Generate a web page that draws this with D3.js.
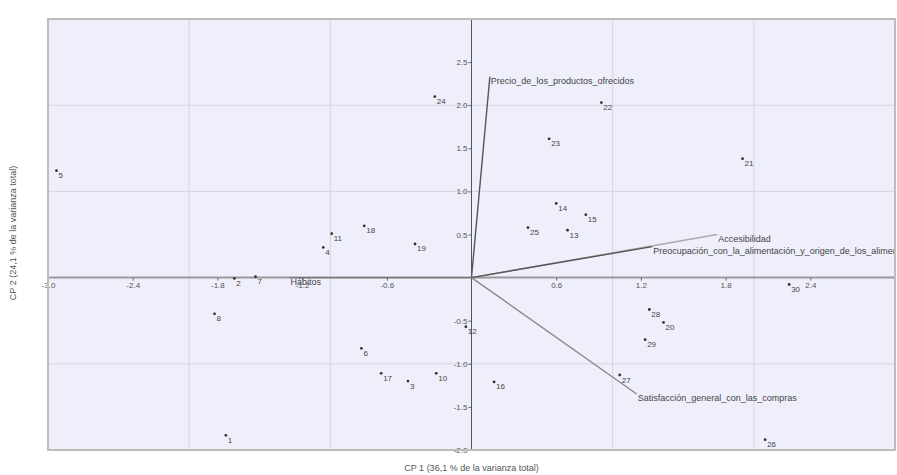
<!DOCTYPE html>
<html><head>
<meta charset="utf-8">
<script src="https://d3js.org/d3.v7.min.js"></script>
<style>
body { margin: 0; background: #fff; }
text { font-family: "Liberation Sans", Arial, sans-serif; }
</style>
</head>
<body>
<svg class="chart"></svg>
<script>
var width = 897;
var height = 475;

// observations (scores)
var pointIds = ["1","2","3","4","5","6","7","8","10","11","12","13","14","15","16","17","18","19","20","21","22","23","24","25","26","27","28","29","30"];
var pointX = [-1.74,-1.68,-0.45,-1.05,-2.94,-0.78,-1.53,-1.82,-0.25,-0.99,-0.04,0.68,0.60,0.81,0.16,-0.64,-0.76,-0.40,1.36,1.92,0.92,0.55,-0.26,0.40,2.08,1.05,1.26,1.23,2.25];
var pointY = [-1.83,-0.01,-1.20,0.35,1.24,-0.82,0.01,-0.42,-1.11,0.51,-0.57,0.55,0.86,0.73,-1.21,-1.11,0.60,0.39,-0.52,1.38,2.03,1.61,2.10,0.58,-1.88,-1.13,-0.37,-0.72,-0.08];

// variables (loadings)
var vectorNames = ["Precio_de_los_productos_ofrecidos","Accesibilidad","Preocupación_con_la_alimentación_y_origen_de_los_alimentos","Satisfacción_general_con_las_compras","Hábitos"];
var vectorX = [0.13,1.74,1.28,1.17,-1.29];
var vectorY = [2.33,0.50,0.36,-1.35,0.0];
var vectorColors = ["#555","#a8a8a8","#555","#8a8a8a","#777"];

var xTicks = [-3.0,-2.4,-1.8,-1.2,-0.6,0.6,1.2,1.8,2.4];
var yTicks = [-2.0,-1.5,-1.0,-0.5,0.5,1.0,1.5,2.0,2.5];
var xGrid = [-2,-1,1,2];
var yGrid = [-1,1,2];

var pL = 48, pR = 895, pT = 19, pB = 450;

var x = d3.scaleLinear().domain([-3,3]).range([pL,pR]);
var y = d3.scaleLinear().domain([-2,3]).range([pB,pT]);

var fmt = function(d) { return d.toFixed(1); };

var chart = d3.select(".chart")
    .attr("width",width)
    .attr("height",height);

chart.append("defs").append("clipPath").attr("id","plotclip")
    .append("rect")
    .attr("x",pL).attr("y",pT)
    .attr("width",pR-pL).attr("height",pB-pT);

chart.append("rect")
    .attr("x",pL).attr("y",pT)
    .attr("width",pR-pL).attr("height",pB-pT)
    .attr("fill","#efeffc");

var g = chart.append("g").attr("clip-path","url(#plotclip)");

g.selectAll(".gx").data(xGrid).enter().append("line")
    .attr("x1",function(d){ return x(d); }).attr("x2",function(d){ return x(d); })
    .attr("y1",pT).attr("y2",pB)
    .attr("stroke","#d4d4e4").attr("stroke-width",1);

g.selectAll(".gy").data(yGrid).enter().append("line")
    .attr("y1",function(d){ return y(d); }).attr("y2",function(d){ return y(d); })
    .attr("x1",pL).attr("x2",pR)
    .attr("stroke","#d4d4e4").attr("stroke-width",1);

// axes through the origin
g.append("line")
    .attr("x1",pL).attr("x2",pR)
    .attr("y1",y(0)).attr("y2",y(0))
    .attr("stroke","#9a9a9a").attr("stroke-width",2);
g.append("line")
    .attr("x1",x(0)).attr("x2",x(0))
    .attr("y1",pT).attr("y2",pB)
    .attr("stroke","#555").attr("stroke-width",1);

var xAxis = chart.append("g")
    .attr("transform","translate(0," + y(0) + ")")
    .call(d3.axisBottom(x).tickValues(xTicks).tickSize(3).tickFormat(fmt));
var yAxis = chart.append("g")
    .attr("transform","translate(" + x(0) + ",0)")
    .call(d3.axisLeft(y).tickValues(yTicks).tickSize(3).tickFormat(fmt));

[xAxis,yAxis].forEach(function(a){
    a.select(".domain").remove();
    a.selectAll("line").attr("stroke","#666");
    a.selectAll("text").attr("fill","#555").style("font-size","8px")
        .style("font-family","'Liberation Sans', Arial, sans-serif");
});
xAxis.selectAll("text").attr("dy","0.55em");
yAxis.selectAll("text").attr("x",-4);

// vectors
g.selectAll(".vec").data(vectorNames).enter().append("line")
    .attr("x1",x(0)).attr("y1",y(0))
    .attr("x2",function(d,i){ return x(vectorX[i]); })
    .attr("y2",function(d,i){ return y(vectorY[i]); })
    .attr("stroke",function(d,i){ return vectorColors[i]; })
    .attr("stroke-width",1.4);

g.selectAll(".vlab").data(vectorNames).enter().append("text")
    .attr("x",function(d,i){ return x(vectorX[i]) + 1; })
    .attr("y",function(d,i){ return y(vectorY[i]) + 7; })
    .attr("fill","#444")
    .style("font-size","9px")
    .text(function(d){ return d; });

// points
g.selectAll(".pt").data(pointIds).enter().append("circle")
    .attr("cx",function(d,i){ return x(pointX[i]); })
    .attr("cy",function(d,i){ return y(pointY[i]); })
    .attr("r",1.4)
    .attr("fill","#333");

g.selectAll(".plab").data(pointIds).enter().append("text")
    .attr("x",function(d,i){ return x(pointX[i]) + 2; })
    .attr("y",function(d,i){ return y(pointY[i]) + 7.5; })
    .attr("fill","#444")
    .style("font-size","8px")
    .text(function(d){ return d; });

// frame
chart.append("rect")
    .attr("x",pL).attr("y",pT)
    .attr("width",pR-pL).attr("height",pB-pT)
    .attr("fill","none")
    .attr("stroke","#bdbdbd").attr("stroke-width",2);

chart.append("text")
    .attr("x",x(0)).attr("y",471)
    .attr("text-anchor","middle")
    .attr("fill","#555")
    .style("font-size","9px")
    .text("CP 1 (36,1 % de la varianza total)");

chart.append("text")
    .attr("transform","translate(16,233) rotate(-90)")
    .attr("text-anchor","middle")
    .attr("fill","#555")
    .style("font-size","9px")
    .text("CP 2 (24,1 % de la varianza total)");
</script>
</body></html>
